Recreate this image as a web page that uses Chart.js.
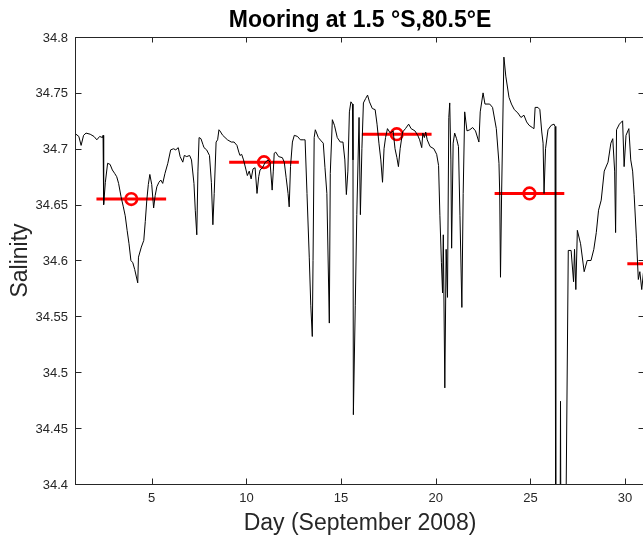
<!DOCTYPE html>
<html>
<head>
<meta charset="utf-8">
<script src="https://cdn.jsdelivr.net/npm/chart.js@4.4.1/dist/chart.umd.min.js"></script>
<style>
  html, body { margin: 0; padding: 0; background: #fff; overflow: hidden; }
  #wrapSal { width: 660px; height: 541px; }
</style>
</head>
<body>
<div id="wrapSal"><canvas id="cSal" width="660" height="541"></canvas></div>
<script>
// ===== Salinity at the mooring, September 2008 =====
const days = [
    1.00, 1.15, 1.27, 1.40, 1.53, 1.75, 1.95, 2.10, 2.25, 2.40, 2.43, 2.46, 2.55, 2.67, 2.80, 2.92,
    3.04, 3.15, 3.25, 3.38, 3.50, 3.60, 3.70, 3.80, 3.90, 4.00, 4.10, 4.26, 4.30, 4.45, 4.58, 4.66,
    4.74, 4.82, 4.90, 5.00, 5.10, 5.18, 5.27, 5.38, 5.48, 5.58, 5.70, 5.85, 6.00, 6.15, 6.27, 6.40,
    6.50, 6.64, 6.72, 6.85, 7.00, 7.10, 7.23, 7.30, 7.38, 7.44, 7.50, 7.60, 7.70, 7.76, 7.90, 8.05,
    8.15, 8.23, 8.30, 8.40, 8.48, 8.55, 8.60, 8.75, 9.00, 9.20, 9.35, 9.50, 9.60, 9.66, 9.75, 9.85,
    9.98, 10.05, 10.15, 10.25, 10.35, 10.46, 10.56, 10.65, 10.72, 10.85, 11.00, 11.15, 11.25, 11.36, 11.42, 11.47,
    11.55, 11.70, 11.90, 12.00, 12.10, 12.20, 12.26, 12.33, 12.43, 12.53, 12.70, 12.85, 13.00, 13.10, 13.20, 13.32,
    13.40, 13.48, 13.52, 13.58, 13.64, 13.80, 13.95, 14.06, 14.15, 14.25, 14.38, 14.43, 14.54, 14.65, 14.80, 14.96,
    15.10, 15.20, 15.28, 15.36, 15.44, 15.52, 15.60, 15.63, 15.65, 15.75, 15.83, 15.95, 16.02, 16.10, 16.18, 16.30,
    16.40, 16.50, 16.65, 16.80, 16.90, 17.00, 17.10, 17.19, 17.27, 17.35, 17.45, 17.60, 17.75, 17.85, 17.95, 18.03,
    18.12, 18.25, 18.40, 18.57, 18.70, 18.90, 19.05, 19.15, 19.26, 19.32, 19.40, 19.47, 19.55, 19.70, 19.90, 20.05,
    20.15, 20.22, 20.30, 20.36, 20.40, 20.48, 20.55, 20.62, 20.69, 20.74, 20.80, 20.84, 20.92, 21.00, 21.10, 21.20,
    21.28, 21.38, 21.45, 21.53, 21.65, 21.80, 21.95, 22.10, 22.28, 22.35, 22.50, 22.60, 22.85, 23.00, 23.20, 23.34,
    23.38, 23.42, 23.48, 23.60, 23.70, 23.87, 24.00, 24.15, 24.34, 24.50, 24.66, 24.80, 24.93, 25.10, 25.19, 25.25,
    25.40, 25.50, 25.60, 25.67, 25.72, 25.80, 25.93, 26.10, 26.25, 26.30, 26.34, 26.56, 26.59, 26.62, 26.84, 27.00,
    27.15, 27.28, 27.33, 27.40, 27.48, 27.65, 27.84, 28.00, 28.20, 28.35, 28.48, 28.60, 28.74, 28.90, 29.10, 29.25,
    29.35, 29.45, 29.50, 29.55, 29.70, 29.87, 29.95, 30.05, 30.20, 30.30, 30.40, 30.48, 30.60, 30.70, 30.78, 30.88,
    30.97, 31.05
];
const salinity = [
    34.713, 34.711, 34.703, 34.712, 34.714, 34.713, 34.711, 34.708, 34.711, 34.710, 34.712, 34.650, 34.670, 34.687, 34.686, 34.681,
    34.678, 34.675, 34.669, 34.657, 34.648, 34.640, 34.627, 34.615, 34.600, 34.598, 34.592, 34.580, 34.603, 34.612, 34.618, 34.635,
    34.654, 34.668, 34.677, 34.668, 34.647, 34.658, 34.666, 34.670, 34.672, 34.669, 34.678, 34.687, 34.699, 34.700, 34.699, 34.701,
    34.693, 34.688, 34.694, 34.693, 34.694, 34.690, 34.669, 34.645, 34.623, 34.680, 34.710, 34.709, 34.704, 34.701, 34.699, 34.694,
    34.670, 34.632, 34.660, 34.706, 34.708, 34.717, 34.716, 34.712, 34.708, 34.706, 34.706, 34.703, 34.697, 34.694, 34.695, 34.690,
    34.681, 34.676, 34.680, 34.673, 34.682, 34.683, 34.660, 34.675, 34.681, 34.683, 34.688, 34.690, 34.688, 34.663, 34.680, 34.696,
    34.697, 34.693, 34.692, 34.688, 34.674, 34.660, 34.648, 34.684, 34.706, 34.712, 34.711, 34.708, 34.708, 34.708, 34.660, 34.603,
    34.560, 34.532, 34.600, 34.710, 34.717, 34.710, 34.707, 34.705, 34.683, 34.660, 34.544, 34.678, 34.726, 34.721, 34.710, 34.706,
    34.706, 34.690, 34.659, 34.680, 34.733, 34.742, 34.740, 34.690, 34.462, 34.560, 34.641, 34.728, 34.641, 34.700, 34.741, 34.745,
    34.748, 34.742, 34.736, 34.735, 34.722, 34.705, 34.690, 34.670, 34.700, 34.710, 34.718, 34.714, 34.716, 34.700, 34.692, 34.684,
    34.700, 34.715, 34.718, 34.722, 34.718, 34.716, 34.712, 34.708, 34.701, 34.714, 34.710, 34.715, 34.708, 34.702, 34.700, 34.695,
    34.685, 34.640, 34.598, 34.571, 34.623, 34.486, 34.610, 34.567, 34.728, 34.741, 34.690, 34.611, 34.705, 34.714, 34.709, 34.702,
    34.640, 34.558, 34.660, 34.733, 34.716, 34.717, 34.719, 34.716, 34.706, 34.733, 34.750, 34.740, 34.740, 34.737, 34.718, 34.687,
    34.660, 34.585, 34.660, 34.782, 34.765, 34.746, 34.740, 34.735, 34.732, 34.728, 34.730, 34.724, 34.721, 34.719, 34.718, 34.737,
    34.737, 34.735, 34.715, 34.705, 34.660, 34.700, 34.717, 34.721, 34.722, 34.720, 34.300, 34.300, 34.474, 34.300, 34.300, 34.609,
    34.609, 34.581, 34.610, 34.574, 34.627, 34.615, 34.590, 34.600, 34.600, 34.610, 34.625, 34.645, 34.654, 34.680, 34.688, 34.705,
    34.709, 34.680, 34.625, 34.717, 34.722, 34.725, 34.684, 34.712, 34.718, 34.690, 34.680, 34.659, 34.620, 34.583, 34.590, 34.574,
    34.589, 34.590
];

// weekly means (circle = centre of the averaging window)
const meanDays = [3.92, 10.93, 17.94, 24.95, 31.96];
const meanSal = [34.655, 34.688, 34.713, 34.660, 34.597];
const meanHalfWidth = 1.84;

const xTicks = [5, 10, 15, 20, 25, 30];
const yTicks = [34.4, 34.45, 34.5, 34.55, 34.6, 34.65, 34.7, 34.75, 34.8];
const yTickLabels = ['34.4', '34.45', '34.5', '34.55', '34.6', '34.65', '34.7', '34.75', '34.8'];

const FONT = "'Liberation Sans', Arial, Helvetica, sans-serif";
const AXIS = '#262626';

// MATLAB-ish box with inward ticks, labels and titles
const matlabAxes = {
    id: 'matlabAxes',
    afterDraw(chart) {
        const { ctx, chartArea: a, scales } = chart;
        const x = scales.x, y = scales.y;
        const tl = 5.5;
        ctx.save();
        ctx.strokeStyle = AXIS;
        ctx.lineWidth = 1;
        ctx.strokeRect(a.left - 0.5, a.top + 0.5, a.right - a.left, a.bottom - a.top);

        ctx.beginPath();
        xTicks.forEach(v => {
            const px = Math.round(x.getPixelForValue(v)) + 0.5;
            ctx.moveTo(px, a.bottom); ctx.lineTo(px, a.bottom - tl);
            ctx.moveTo(px, a.top); ctx.lineTo(px, a.top + tl);
        });
        yTicks.forEach(v => {
            const py = Math.round(y.getPixelForValue(v)) + 0.5;
            ctx.moveTo(a.left, py); ctx.lineTo(a.left + tl, py);
            ctx.moveTo(a.right, py); ctx.lineTo(a.right - tl, py);
        });
        ctx.stroke();

        ctx.fillStyle = AXIS;
        ctx.font = `13px ${FONT}`;
        ctx.textAlign = 'center';
        ctx.textBaseline = 'middle';
        xTicks.forEach(v => ctx.fillText(String(v), x.getPixelForValue(v), a.bottom + 14));
        ctx.textAlign = 'right';
        yTicks.forEach((v, i) => ctx.fillText(yTickLabels[i], a.left - 8, y.getPixelForValue(v) + 1));

        // axis titles
        ctx.font = `23px ${FONT}`;
        ctx.textAlign = 'center';
        ctx.textBaseline = 'alphabetic';
        ctx.fillText('Day (September 2008)', (a.left + a.right) / 2, 530);
        ctx.save();
        ctx.translate(27, (a.top + a.bottom) / 2);
        ctx.rotate(-Math.PI / 2);
        ctx.fillText('Salinity', 0, 0);
        ctx.restore();

        // title
        ctx.fillStyle = '#000';
        ctx.font = `bold 23px ${FONT}`;
        ctx.fillText('Mooring at 1.5 °S,80.5°E', (a.left + a.right) / 2, 27);
        ctx.restore();
    }
};

function renderSalinityChart() {
    const ctx = document.getElementById('cSal').getContext('2d');

    const series = days.map((d, i) => ({ x: d, y: salinity[i] }));
    const meanBars = meanDays.map((d, i) => ({
        type: 'line',
        data: [{ x: d - meanHalfWidth, y: meanSal[i] }, { x: d + meanHalfWidth, y: meanSal[i] }],
        borderColor: '#ff0000',
        borderWidth: 3,
        pointRadius: 0
    }));

    new Chart(ctx, {
        type: 'line',
        data: {
            datasets: [
                {
                    data: series,
                    borderColor: '#000',
                    borderWidth: 1,
                    pointRadius: 0,
                    tension: 0
                },
                ...meanBars,
                {
                    type: 'scatter',
                    data: meanDays.map((d, i) => ({ x: d, y: meanSal[i] })),
                    pointStyle: 'circle',
                    pointRadius: 5.8,
                    borderWidth: 2.6,
                    borderColor: '#ff0000',
                    backgroundColor: 'rgba(0,0,0,0)'
                }
            ]
        },
        options: {
            responsive: false,
            animation: false,
            devicePixelRatio: 1,
            layout: { padding: { left: 76, top: 37, right: 16, bottom: 57 } },
            plugins: { legend: { display: false }, tooltip: { enabled: false } },
            scales: {
                x: { type: 'linear', min: 1, max: 31, display: false },
                y: { type: 'linear', min: 34.4, max: 34.8, display: false }
            }
        }
        ,
        plugins: [matlabAxes]
    });
}

renderSalinityChart();
</script>
</body>
</html>
